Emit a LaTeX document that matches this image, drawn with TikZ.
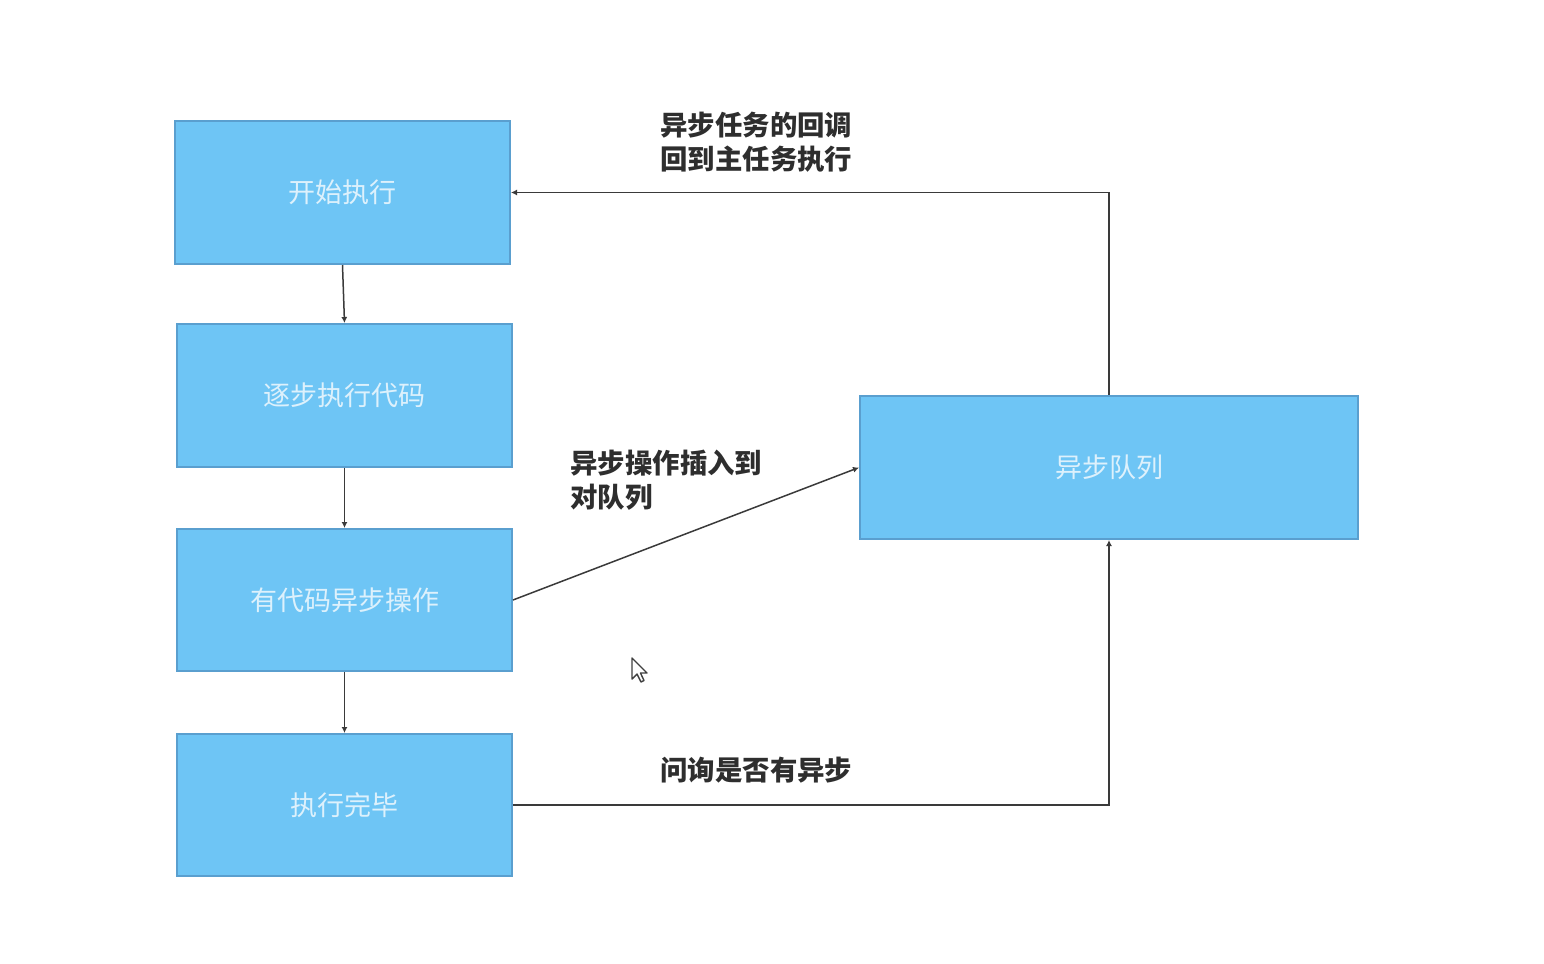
\documentclass[tikz,border=0pt]{standalone}
\usepackage{fontspec}
\newfontfamily\cjk{Noto Sans CJK SC}
\usetikzlibrary{arrows.meta}
\definecolor{boxfill}{HTML}{6EC5F5}
\definecolor{boxline}{HTML}{5A9FCF}
\definecolor{boxtext}{HTML}{DDF1FC}
\definecolor{lbl}{HTML}{2E2E2E}
\definecolor{conn}{HTML}{3A3A3A}
\tikzset{
  flowbox/.style={draw=boxline, fill=boxfill, line width=1pt, inner sep=0pt,
    font=\cjk\fontsize{13.5}{15}\selectfont, text=boxtext},
  conn/.style={draw=conn, line width=0.75pt, -{Latex[length=3pt,width=3pt]}},
  lab/.style={font=\cjk\bfseries\fontsize{13.7}{17}\selectfont, text=lbl, align=left, anchor=west, inner sep=0pt}
}
\begin{document}
\begin{tikzpicture}[x=0.5pt,y=-0.5pt]
\useasboundingbox (0,0) rectangle (1544,964);
\node[flowbox, minimum width=167.5pt, minimum height=71.5pt] (b1) at (342.5,192.5) {开始执行};
\node[flowbox, minimum width=167.5pt, minimum height=71.5pt] (b2) at (344.5,395.5) {逐步执行代码};
\node[flowbox, minimum width=167.5pt, minimum height=71pt] (b3) at (344.5,600) {有代码异步操作};
\node[flowbox, minimum width=167.5pt, minimum height=71pt] (b4) at (344.5,805) {执行完毕};
\node[flowbox, minimum width=249pt, minimum height=71.5pt] (q) at (1109,467.5) {异步队列};

\draw[conn] (b1.south) -- (b2.north);
\draw[conn] (b2.south) -- (b3.north);
\draw[conn] (b3.south) -- (b4.north);
\draw[conn] (b3.east) -- (q.west);
\draw[conn] (b4.east) -- (b4.east -| q.south) -- (q.south);
\draw[conn] (q.north) -- (q.north |- b1.east) -- (b1.east);

\node[lab] (l1) at (660,142) {异步任务的回调\\回到主任务执行};
\node[lab] (l2) at (570,480) {异步操作插入到\\对队列};
\node[lab] (l3) at (660,770) {问询是否有异步};

% mouse cursor
\draw[black!75, line width=0.7pt, fill=white, line join=round]
  (632,658) -- (632,679) -- (637,674) -- (641,682) -- (644,680.5) -- (640.5,673) -- (647,673) -- cycle;
\end{tikzpicture}
\end{document}
